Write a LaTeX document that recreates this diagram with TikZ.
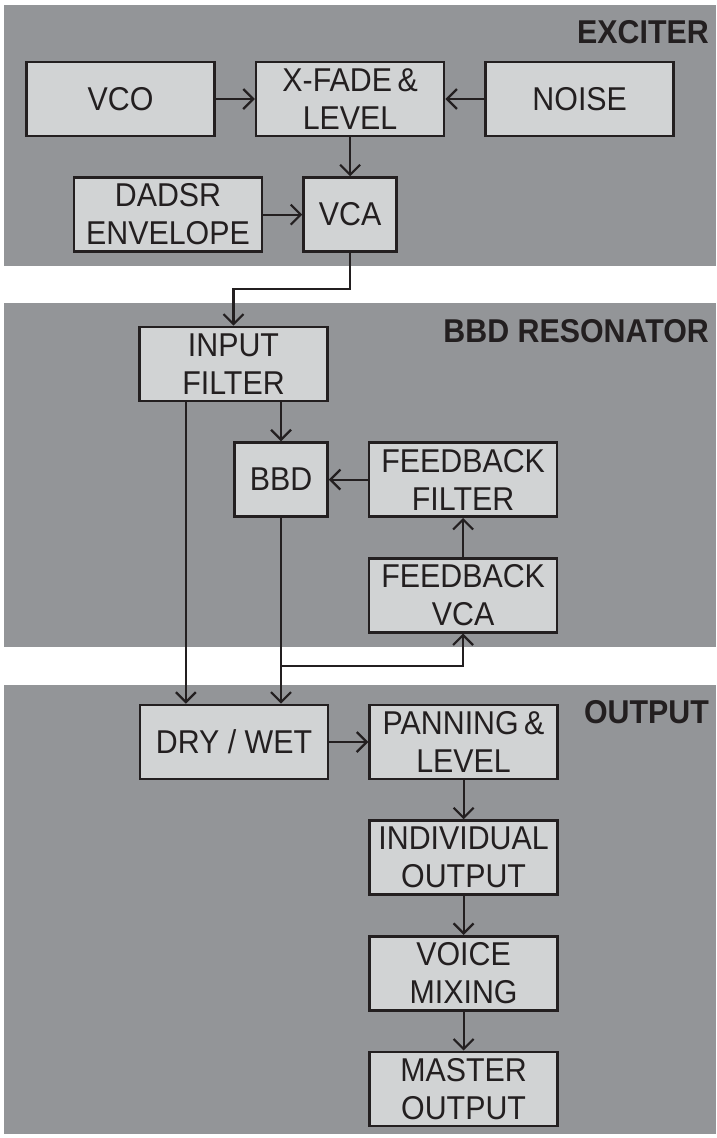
\documentclass[tikz,border=0pt]{standalone}
\usepackage{fontspec}
\setmainfont{Liberation Sans}[FakeStretch=0.92]
\usepackage{tikz}
\usetikzlibrary{arrows.meta,positioning,calc}

\definecolor{panelgray}{RGB}{147,149,152}
\definecolor{boxgray}{RGB}{209,211,212}
\definecolor{ink}{RGB}{35,31,32}

\begin{document}
\begin{tikzpicture}[x=1pt, y=-1pt,
  box/.style={draw=ink, fill=boxgray, line width=2.6pt, inner sep=0pt, align=center,
              text=ink, font=\fontsize{33}{38}\selectfont,
              minimum width=188pt, minimum height=74pt},
  smallbox/.style={box, minimum width=93pt},
  panel/.style={fill=panelgray},
  lbl/.style={text=ink, font=\fontsize{33}{38}\selectfont\bfseries, inner sep=0pt},
  ar/.style={draw=ink, line width=2.2pt, -{Straight Barb[length=10pt,width=20pt,line width=2.2pt]}}
]
\useasboundingbox (0,0) rectangle (716,1138);
\fill[panel] (4,5) rectangle (716,266);
\fill[panel] (4,303) rectangle (716,647);
\fill[panel] (4,685) rectangle (716,1134);

% exciter
\node[lbl, anchor=base east] (exlbl) at (709,43) {EXCITER};
\node[box] (vco) at (120.5,99) {VCO};
\node[box, right=39pt of vco] (xfade) {X-FADE\,\&\\LEVEL};
\node[box, right=39pt of xfade] (noise) {NOISE};
\node[smallbox, below=39pt of xfade] (vca) {VCA};
\node[box, left=39pt of vca] (env) {DADSR\\ENVELOPE};

% resonator
\node[lbl, anchor=base east] (reslbl) at (709,342) {BBD RESONATOR};
\node[box] (infilt) at (233.5,364) {INPUT\\FILTER};
\node[smallbox, below=39pt of infilt.south east, anchor=north east] (bbd) {BBD};
\node[box, right=39pt of bbd] (fbfilt) {FEEDBACK\\FILTER};
\node[box, below=39pt of fbfilt] (fbvca) {FEEDBACK\\VCA};

% output
\node[lbl, anchor=base east] (outlbl) at (709,723) {OUTPUT};
\node[box] (drywet) at (234,742) {DRY / WET};
\node[box, right=39pt of drywet] (pan) {PANNING\,\&\\LEVEL};
\node[box, below=39pt of pan] (indiv) {INDIVIDUAL\\OUTPUT};
\node[box, below=39pt of indiv] (mix) {VOICE\\MIXING};
\node[box, below=39pt of mix] (master) {MASTER\\OUTPUT};

\coordinate (dry) at ($(infilt.south west)!.25!(infilt.south east)$);
\coordinate (split) at (bbd.south |- 0,666);

\draw[ar] (vco) -- (xfade);
\draw[ar] (noise) -- (xfade);
\draw[ar] (xfade) -- (vca);
\draw[ar] (env) -- (vca);
\draw[ar] (vca.south) -- ++(0,36) -| (infilt.north);
\draw[ar] (bbd.north |- infilt.south) -- (bbd.north);
\draw[ar] (fbfilt) -- (bbd);
\draw[ar] (fbvca) -- (fbfilt);
\draw[ar] (dry) -- (dry |- drywet.north);
\draw[ar] (bbd.south) -- (bbd.south |- drywet.north);
\draw[ar] (split) -| (fbvca.south);
\draw[ar] (drywet) -- (pan);
\draw[ar] (pan) -- (indiv);
\draw[ar] (indiv) -- (mix);
\draw[ar] (mix) -- (master);
\end{tikzpicture}
\end{document}
